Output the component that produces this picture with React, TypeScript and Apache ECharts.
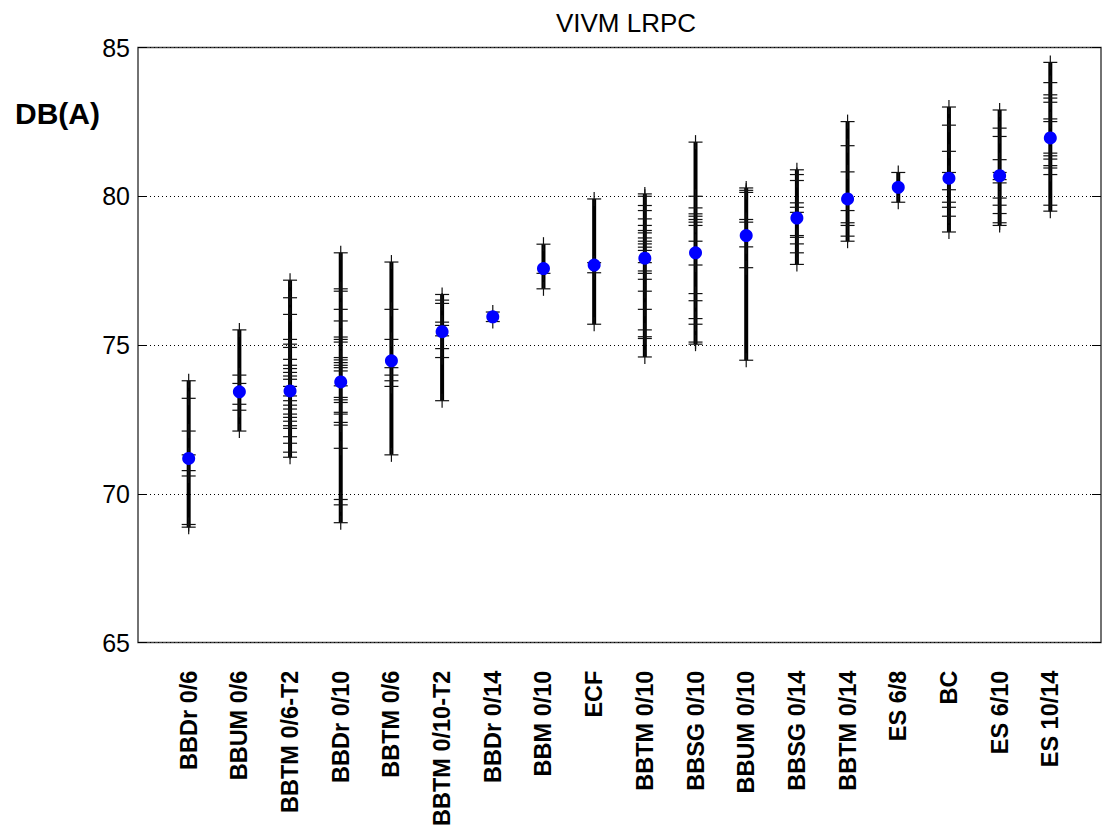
import React, { useEffect, useRef } from "react";
import * as echarts from "echarts";

const categories = [
  "BBDr 0/6",
  "BBUM 0/6",
  "BBTM 0/6-T2",
  "BBDr 0/10",
  "BBTM 0/6",
  "BBTM 0/10-T2",
  "BBDr 0/14",
  "BBM 0/10",
  "ECF",
  "BBTM 0/10",
  "BBSG 0/10",
  "BBUM 0/10",
  "BBSG 0/14",
  "BBTM 0/14",
  "ES 6/8",
  "BC",
  "ES 6/10",
  "ES 10/14",
];

const means = [
  71.19, 73.43, 73.46, 73.76, 74.47, 75.45, 75.95, 77.57, 77.69, 77.92, 78.1,
  78.68, 79.27, 79.91, 80.3, 80.61, 80.69, 81.96,
];

const measurements: number[][] = [
  [73.8, 73.21, 72.11, 71.31, 70.78, 70.6, 68.97, 68.88],
  [75.51, 73.99, 73.71, 73.01, 72.81, 72.11],
  [
    77.18, 76.59, 76.03, 75.19, 75.03, 74.92, 74.52, 74.32, 74.21, 74.08,
    73.96, 73.85, 73.61, 73.29, 73.13, 72.98, 72.85, 72.68, 72.57, 72.44,
    72.29, 72.2, 71.92, 71.7, 71.4, 71.23,
  ],
  [
    78.1, 76.89, 76.81, 76.2, 75.81, 75.27, 75.19, 75.1, 74.58, 74.5, 74.41,
    74.32, 74.24, 74.13, 73.63, 73.24, 73.16, 73.07, 72.74, 72.68, 72.4, 72.31,
    71.53, 69.81, 69.63, 69.03,
  ],
  [77.79, 76.2, 75.19, 74.24, 73.99, 73.8, 73.61, 71.31],
  [76.7, 76.51, 76.4, 75.77, 75.66, 75.31, 74.88, 74.58, 73.13],
  [76.11, 75.79],
  [78.39, 77.41, 76.89],
  [79.91, 77.77, 77.43, 75.7],
  [
    80.08, 80.0, 79.69, 79.52, 79.24, 79.02, 78.85, 78.77, 78.6, 78.49, 78.4,
    78.29, 78.18, 77.77, 77.49, 77.41, 77.21, 76.81, 76.2, 75.51, 75.28, 75.22,
    74.6,
  ],
  [
    81.82, 80.0, 79.61, 79.41, 79.33, 79.22, 79.13, 79.02, 78.49, 77.69, 76.73,
    76.49, 75.89, 75.7, 75.1, 75.03,
  ],
  [80.28, 80.2, 80.13, 79.22, 79.13, 78.3, 77.6, 74.49],
  [80.89, 80.73, 80.53, 79.78, 79.63, 79.46, 78.68, 78.62, 78.4, 78.1, 77.71],
  [82.51, 81.7, 80.82, 79.52, 79.11, 79.02, 78.66, 78.49],
  [80.8, 79.8],
  [83.0, 82.39, 81.51, 80.8, 80.22, 79.8, 79.63, 79.33, 78.8],
  [
    82.9, 82.29, 82.01, 81.23, 80.8, 80.56, 80.45, 79.94, 79.7, 79.42, 79.11,
    79.02,
  ],
  [
    84.5, 83.82, 83.41, 83.3, 83.16, 82.6, 82.51, 81.45, 81.36, 81.25, 81.03,
    80.95, 80.73, 79.7, 79.5,
  ],
];

const yMin = 65;
const yMax = 85;
const yInterval = 5;
const title = "VIVM LRPC";
const yName = "DB(A)";

const FONT = "'Liberation Sans', Arial, Helvetica, sans-serif";

export default function App() {
  const ref = useRef<HTMLDivElement>(null);

  useEffect(() => {
    if (!ref.current) return;
    const chart = echarts.init(ref.current, null, { renderer: "svg" });

    const rangeData = measurements.map((vals, i) => [
      i + 1,
      Math.min(...vals, means[i]),
      Math.max(...vals, means[i]),
    ]);
    const pointData: number[][] = [];
    measurements.forEach((vals, i) => {
      vals.forEach((v) => pointData.push([i + 1, v]));
    });
    const meanData = means.map((m, i) => [i + 1, m]);

    chart.setOption({
      animation: false,
      backgroundColor: "#ffffff",
      title: {
        text: title,
        left: 621,
        textAlign: "center",
        top: 5,
        textStyle: {
          fontFamily: FONT,
          fontSize: 26,
          fontWeight: "normal",
          color: "#000",
        },
      },
      graphic: [
        {
          type: "text",
          left: 15,
          top: 98,
          style: {
            text: yName,
            font: `bold 30px ${FONT}`,
            fill: "#000",
          },
        },
      ],
      grid: {
        left: 138,
        right: 5,
        top: 47.5,
        bottom: 185,
        show: true,
        borderColor: "#444",
        borderWidth: 1.5,
        backgroundColor: "#fff",
      },
      xAxis: {
        type: "value",
        min: 0,
        max: categories.length + 1,
        interval: 1,
        axisLine: { show: false },
        axisTick: { show: false },
        splitLine: { show: false },
        axisLabel: {
          rotate: 90,
          margin: 28,
          fontFamily: FONT,
          fontSize: 23.5,
          fontWeight: "bold",
          color: "#000",
          formatter: (v: number) => categories[v - 1] ?? "",
        },
      },
      yAxis: [
        {
          type: "value",
          min: yMin,
          max: yMax,
          interval: yInterval,
          axisLine: { show: false },
          axisTick: {
            show: true,
            inside: true,
            length: 9,
            lineStyle: { color: "#000", width: 1 },
          },
          splitLine: {
            show: true,
            lineStyle: { color: "#000", width: 1, type: [1, 3] },
          },
          axisLabel: {
            margin: 8,
            fontFamily: FONT,
            fontSize: 25,
            color: "#000",
          },
        },
        {
          type: "value",
          position: "right",
          min: yMin,
          max: yMax,
          interval: yInterval,
          axisLine: { show: false },
          axisTick: {
            show: true,
            inside: true,
            length: 9,
            lineStyle: { color: "#000", width: 1 },
          },
          splitLine: { show: false },
          axisLabel: { show: false },
        },
      ],
      series: [
        {
          type: "custom",
          name: "range",
          clip: false,
          data: rangeData,
          encode: { x: 0, y: [1, 2] },
          renderItem: (params: any, api: any) => {
            const top = api.coord([api.value(0), api.value(2)]);
            const bot = api.coord([api.value(0), api.value(1)]);
            return {
              type: "line",
              shape: { x1: top[0], y1: top[1], x2: bot[0], y2: bot[1] },
              style: { stroke: "#000", lineWidth: 4 },
            };
          },
        },
        {
          type: "custom",
          name: "measurements",
          clip: false,
          data: pointData,
          encode: { x: 0, y: 1 },
          renderItem: (params: any, api: any) => {
            const p = api.coord([api.value(0), api.value(1)]);
            const st = { stroke: "#111", lineWidth: 1.2 };
            return {
              type: "group",
              children: [
                {
                  type: "line",
                  shape: { x1: p[0] - 7, y1: p[1], x2: p[0] + 7, y2: p[1] },
                  style: st,
                },
                {
                  type: "line",
                  shape: { x1: p[0], y1: p[1] - 7, x2: p[0], y2: p[1] + 7 },
                  style: st,
                },
              ],
            };
          },
        },
        {
          type: "scatter",
          name: "mean",
          data: meanData,
          symbol: "circle",
          symbolSize: 13,
          itemStyle: { color: "#0000ff", opacity: 1 },
          z: 5,
        },
      ],
    });

    return () => chart.dispose();
  }, []);

  return (
    <div
      ref={ref}
      style={{
        position: "absolute",
        left: 0,
        top: 0,
        width: 1106,
        height: 829,
      }}
    />
  );
}
